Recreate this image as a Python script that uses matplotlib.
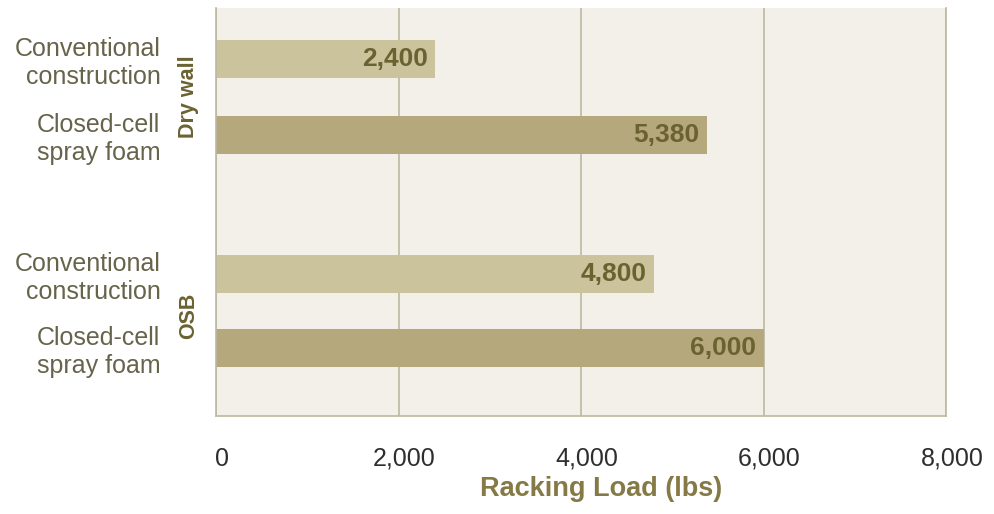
import matplotlib
matplotlib.use('Agg')
import matplotlib.pyplot as plt
import matplotlib.transforms as mtransforms

# bars listed top to bottom
groups = ['Dry wall', 'Dry wall', 'OSB', 'OSB']
categories = ['Conventional\nconstruction', 'Closed-cell\nspray foam',
              'Conventional\nconstruction', 'Closed-cell\nspray foam']
loads = [2400, 5380, 4800, 6000]
value_labels = ['2,400', '5,380', '4,800', '6,000']
x_ticks = [0, 2000, 4000, 6000, 8000]
x_tick_labels = ['0', '2,000', '4,000', '6,000', '8,000']
group_names = ['Dry wall', 'OSB']

plt.rcParams['font.family'] = ['Liberation Sans', 'DejaVu Sans']

light = '#cbc39c'
dark = '#b5a87d'
bg = '#f2f0e8'
grid_col = '#bcb8a0'
text_col = '#6b6232'
cat_col = '#66644a'

positions = [0, 1, 2.83, 3.8]
colors = [light, dark, light, dark]

fig = plt.figure(figsize=(9.94, 5.14), dpi=100)
ax = fig.add_axes([216 / 994, 1 - 416 / 514, 730 / 994, 408 / 514])
ax.set_facecolor(bg)

ax.barh(positions, loads, height=0.5, color=colors, zorder=2)
for p, v, lab in zip(positions, loads, value_labels):
    ax.text(v - 80, p, lab, ha='right', va='center', fontsize=19,
            fontweight='bold', color=text_col, zorder=3)

ax.set_xlim(0, 8000)
ax.set_ylim(4.70, -0.67)
ax.set_xticks(x_ticks)
ax.set_xticklabels(x_tick_labels, fontsize=18, color='#2e2e2e')
ax.tick_params(axis='x', length=0, pad=22)
# the tick labels sit a little right of their gridlines
shift = mtransforms.ScaledTranslation(6 / 100, 0, fig.dpi_scale_trans)
for t in ax.get_xticklabels():
    t.set_transform(t.get_transform() + shift)

ax.set_yticks(positions)
ax.set_yticklabels(categories, fontsize=18, color=cat_col, ha='right')
ax.tick_params(axis='y', length=0, pad=40)
ax.grid(axis='x', color=grid_col, linewidth=1.2, zorder=1)

ax.spines['top'].set_visible(False)
for side in ['left', 'right', 'bottom']:
    ax.spines[side].set_color(grid_col)
    ax.spines[side].set_linewidth(1.2)

# group labels, rotated, between the labels and the axes
for name, centre in zip(group_names, [0.5, 3.38]):
    ax.text(-0.038, centre, name, transform=ax.get_yaxis_transform(),
            rotation=90, ha='center', va='center', fontsize=15.5,
            fontweight='bold', color=text_col)

ax.set_xlabel('Racking Load (lbs)', fontsize=19.5, fontweight='bold',
              color='#857a45')
ax.xaxis.set_label_coords(0.527, -0.147, transform=ax.transAxes)
ax.xaxis.label.set_va('top')

fig.savefig('out.png', dpi=100, facecolor='white')
